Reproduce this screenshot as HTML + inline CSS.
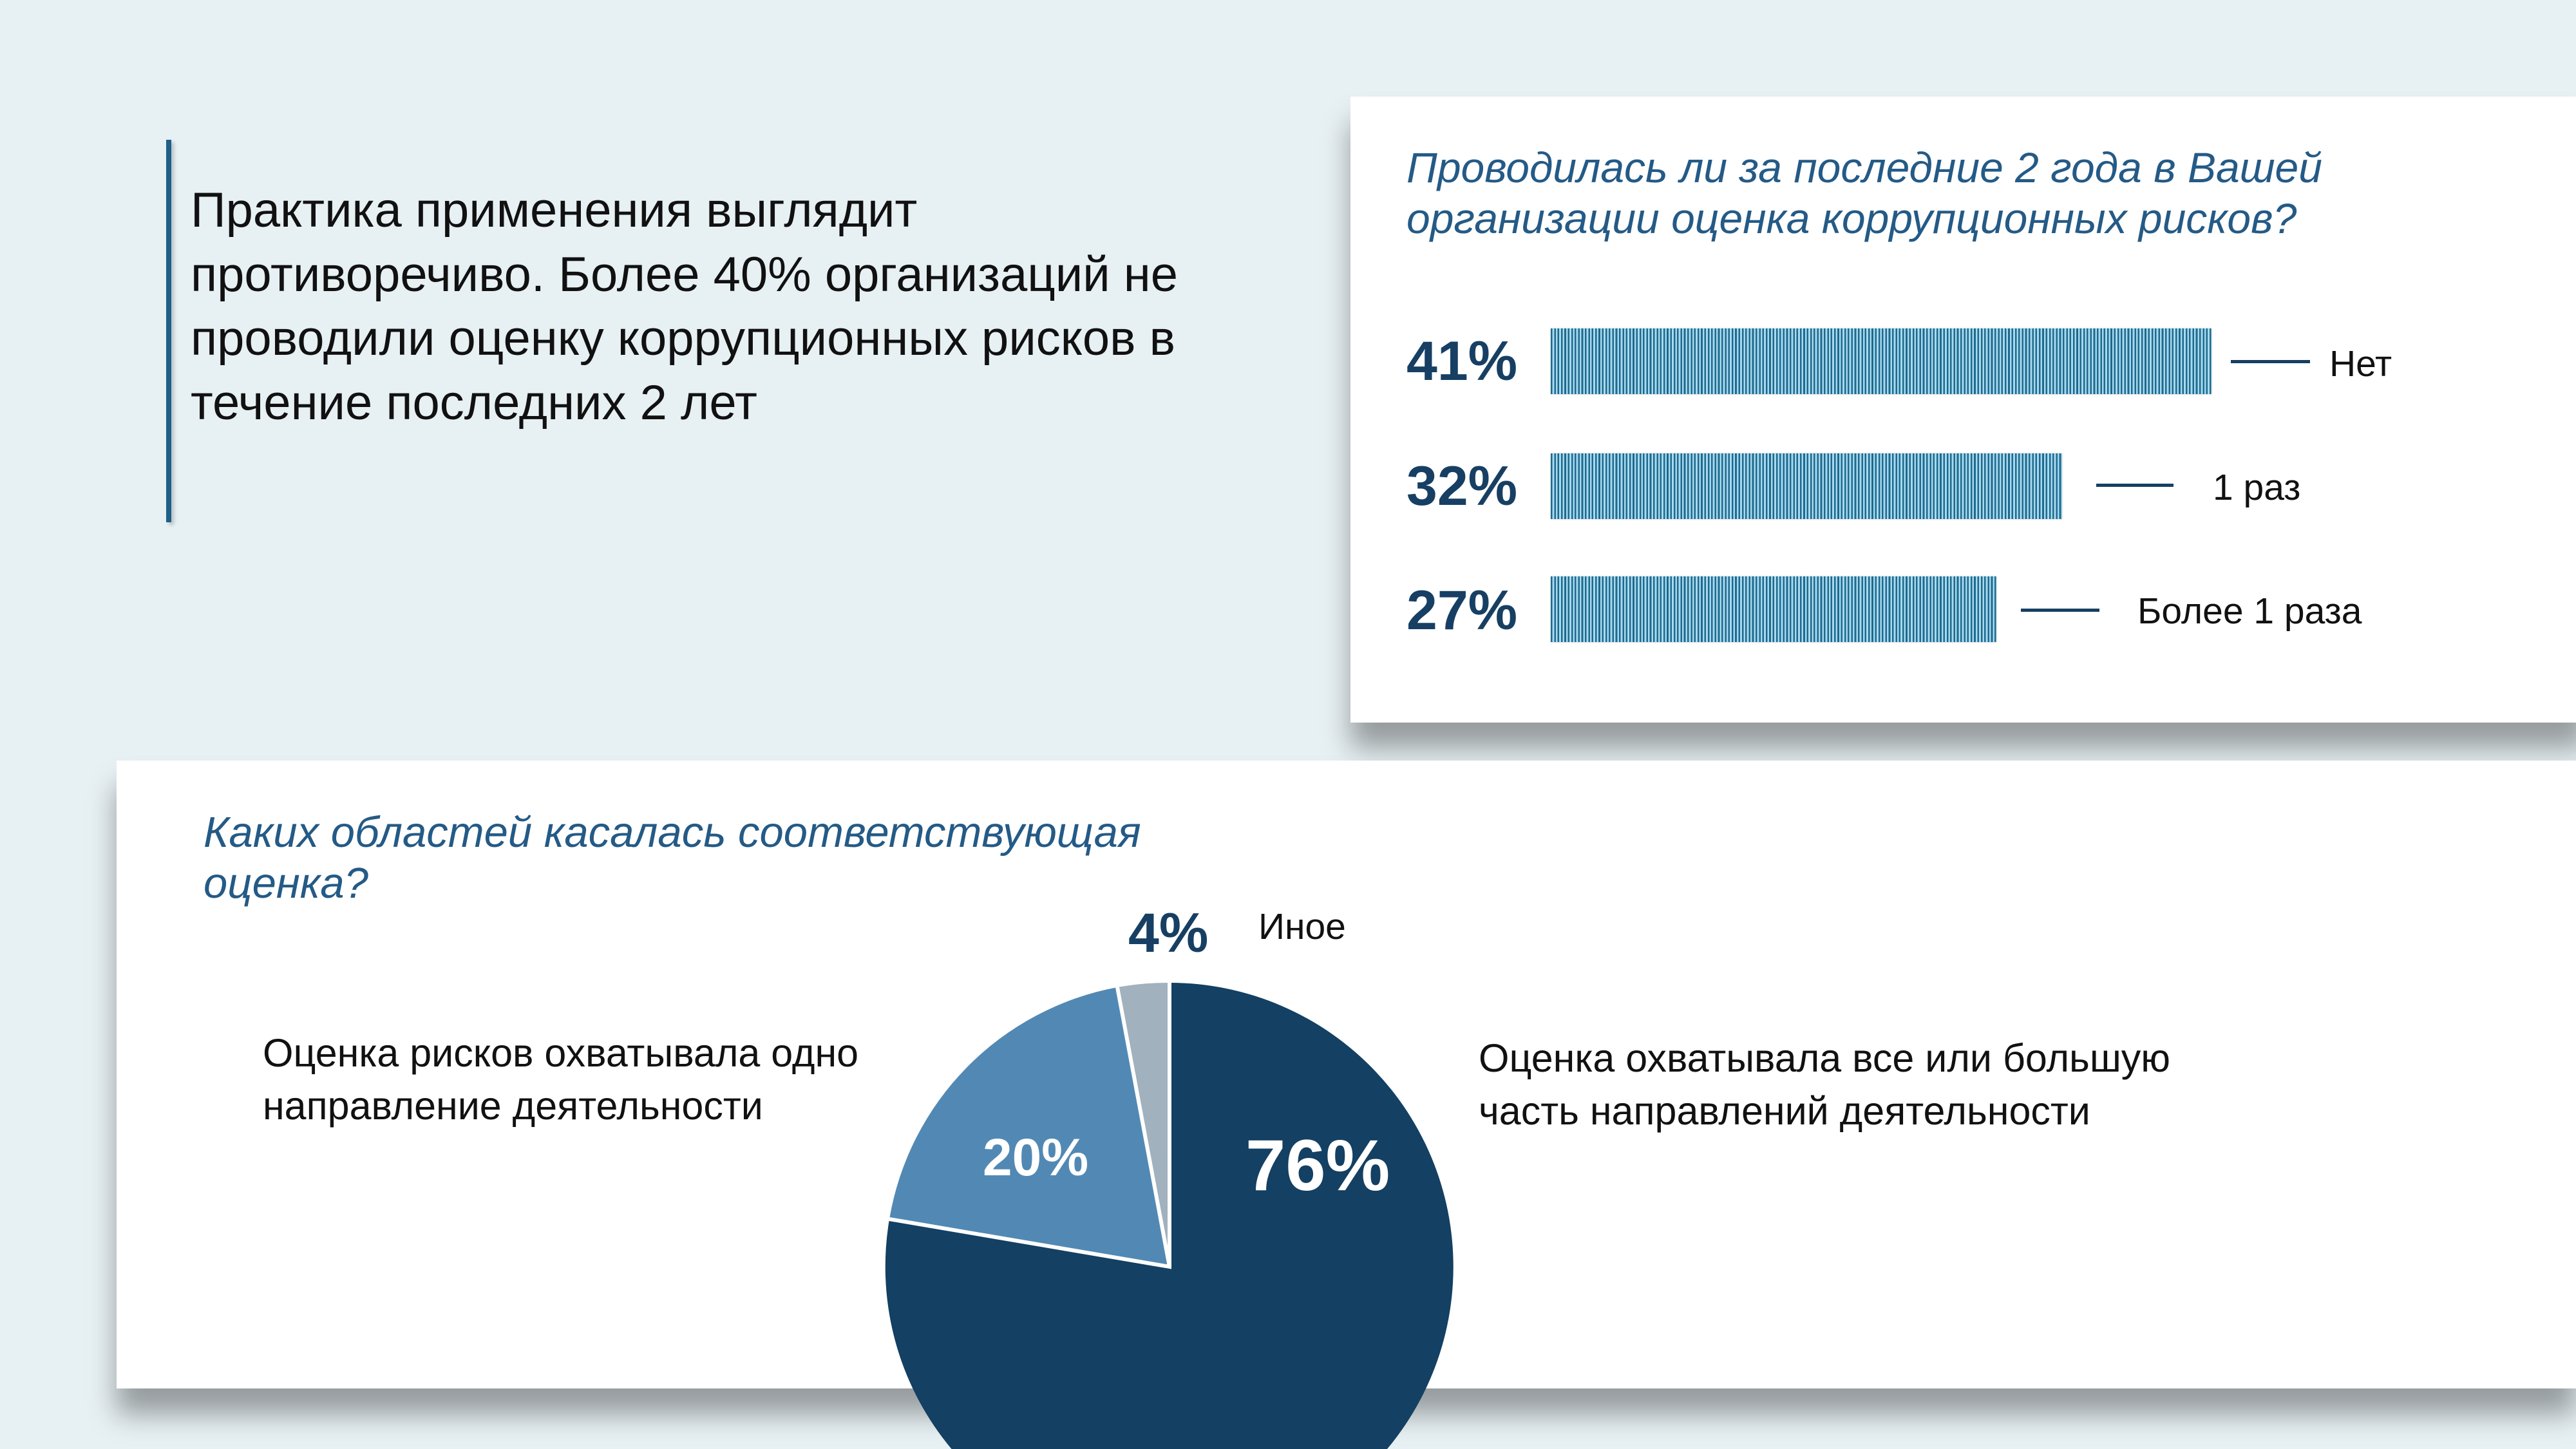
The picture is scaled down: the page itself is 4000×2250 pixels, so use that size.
<!DOCTYPE html>
<html><head><meta charset="utf-8"><style>
*{margin:0;padding:0;box-sizing:border-box}
html{width:4000px;height:2250px;overflow:hidden}
body{width:4000px;height:2250px;background:#e7f0f3;position:relative;overflow:hidden;font-family:"Liberation Sans",sans-serif;}
.a{position:absolute;white-space:nowrap}
.card{position:absolute;background:#fff;box-shadow:0 40px 40px rgba(0,0,0,.35)}
.bar{position:absolute;left:2408px;height:102px;background:repeating-linear-gradient(90deg,#1d6a8e 0,#1d6a8e 2.6px,#a9d9ef 2.6px,#a9d9ef 5.3px);box-shadow:0 0 3px rgba(0,0,0,.2)}
.pct{position:absolute;left:2184px;font-weight:bold;font-size:86px;color:#173f63;line-height:100px}
.dash{position:absolute;height:5px;background:#173f63}
.lbl{position:absolute;font-size:57px;color:#111;line-height:70px}
.tt{font-style:italic;color:#245a86;font-size:66px;line-height:79px}
</style></head><body>
<div class="a" style="left:258px;top:217px;width:8px;height:594px;background:#1f5f87;box-shadow:4px 4px 6px rgba(0,0,0,.2)"></div>
<div class="a" style="left:296px;top:277px;font-size:76px;line-height:99.5px;color:#111">Практика применения выглядит<br>противоречиво. Более 40% организаций не<br>проводили оценку коррупционных рисков в<br>течение последних 2 лет</div>

<div class="card" style="left:2097px;top:150px;width:1920px;height:972px"></div>
<div class="a tt" style="left:2184px;top:221px">Проводилась ли за последние 2 года в Вашей<br>организации оценка коррупционных рисков?</div>
<div class="pct" style="top:511px">41%</div>
<div class="pct" style="top:705px">32%</div>
<div class="pct" style="top:898px">27%</div>
<div class="bar" style="top:510px;width:1026px"></div>
<div class="bar" style="top:704px;width:794px"></div>
<div class="bar" style="top:895px;width:692px"></div>
<div class="dash" style="left:3464px;top:559px;width:123px"></div>
<div class="lbl a" style="left:3617px;top:530px">Нет</div>
<div class="dash" style="left:3255px;top:751px;width:120px"></div>
<div class="lbl a" style="left:3436px;top:722px">1 раз</div>
<div class="dash" style="left:3138px;top:945px;width:122px"></div>
<div class="lbl a" style="left:3319px;top:914px">Более 1 раза</div>

<div class="card" style="left:181px;top:1181px;width:3819px;height:975px"></div>
<div class="a tt" style="left:316px;top:1253px;font-size:67px">Каких областей касалась соответствующая<br>оценка?</div>
<svg class="a" style="left:0;top:0" width="4000" height="2250">
<path d="M1816 1967 L1816 1526 A441 441 0 1 1 1381 1893 Z" fill="#134063"/>
<path d="M1816 1967 L1381 1893 A441 441 0 0 1 1735 1533 Z" fill="#5189b4"/>
<path d="M1816 1967 L1735 1533 A441 441 0 0 1 1816 1526 Z" fill="#a1b1be"/>
<path d="M1381 1893 L1816 1967 L1816 1526 M1816 1967 L1735 1533" fill="none" stroke="#fff" stroke-width="6"/>
</svg>
<div class="a" style="left:1934px;top:1745px;font-size:112px;font-weight:bold;color:#fff;line-height:130px">76%</div>
<div class="a" style="left:1526px;top:1750px;font-size:82px;font-weight:bold;color:#fff;line-height:95px">20%</div>
<div class="a" style="left:1752px;top:1399px;font-size:86px;font-weight:bold;color:#173f63;line-height:100px">4%</div>
<div class="lbl a" style="left:1954px;top:1404px">Иное</div>
<div class="lbl a" style="left:408px;top:1594px;line-height:82px;font-size:61px">Оценка рисков охватывала одно<br>направление деятельности</div>
<div class="lbl a" style="left:2296px;top:1602px;line-height:82px;font-size:61px">Оценка охватывала все или большую<br>часть направлений деятельности</div>
</body></html>
